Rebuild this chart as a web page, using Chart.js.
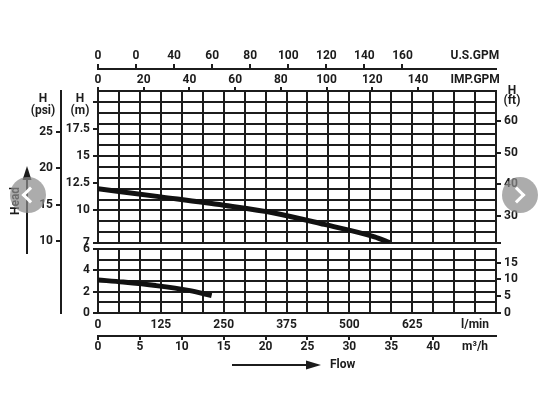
<!DOCTYPE html>
<html>
<head>
<meta charset="utf-8">
<script src="https://cdn.jsdelivr.net/npm/chart.js@4.4.1/dist/chart.umd.min.js"></script>
<style>
  html, body { margin: 0; padding: 0; background: #fff; }
  #wrap { position: relative; width: 553px; height: 415px; }
  .nav { position: absolute; width: 36px; height: 36px; border-radius: 50%; background: rgba(140, 140, 140, 0.72); }
  .nav::after { content: ''; position: absolute; top: 12px; width: 9px; height: 9px; border-left: 3px solid #fff; border-bottom: 3px solid #fff; }
  #navL { left: 10px; top: 177px; }
  #navL::after { left: 14px; transform: rotate(45deg); }
  #navR { left: 502px; top: 177px; }
  #navR::after { left: 9px; transform: rotate(-135deg); }
</style>
</head>
<body>
<div id="wrap">
  <canvas id="pumpChart"></canvas>
  <div class="nav" id="navL"></div>
  <div class="nav" id="navR"></div>
</div>
<script>
// pump curves, flow in l/min, head in m
const flowUpper = [0, 125, 250, 350, 450, 550, 580];
const headUpper = [12.0, 11.25, 10.48, 9.77, 8.71, 7.56, 7.03];
const flowLower = [0, 50, 115, 180, 226];
const headLower = [3.1, 2.9, 2.57, 2.12, 1.63];

// tick labels
const lminTicks = [0, 125, 250, 375, 500, 625];
const m3hTicks = [0, 5, 10, 15, 20, 25, 30, 35, 40];
const usGpmTicks = [0, 20, 40, 60, 80, 100, 120, 140, 160];
const usGpmLabels = ['0', '0', '40', '60', '80', '100', '120', '140', '160'];
const impGpmTicks = [0, 20, 40, 60, 80, 100, 120, 140];
const headMTicks = [7, 10, 12.5, 15, 17.5];
const headMLowerTicks = [0, 2, 4, 6];
const psiTicks = [10, 15, 20, 25];
const ftTicks = [30, 40, 50, 60];
const ftLowerTicks = [0, 5, 10, 15];

// where the unit names sit on their axes (axis units)
const unitAt = { lmin: 750, m3h: 45, usGpm: 198, impGpm: 165 };

const ink = '#1c1c1c';
const font = { family: 'Roboto', weight: 'bold', size: 12 };
const COL = 125 / 3;            // one grid column in l/min
const LMIN_MAX = 19 * COL;
const FT_MIN = 21.5;

const near = (a, b) => Math.abs(a - b) < 1e-6;
const has = (arr, v) => arr.some(t => near(t, v));
const fixed = values => scale => { scale.ticks = values.map(v => ({ value: v })); };
const range = (a, b, step) => { const out = []; for (let v = a; v <= b + 1e-9; v += step) out.push(v); return out; };

const gridCols = range(0, LMIN_MAX, COL);
const gridUpper = range(7, 21, 1).concat([12.5, 17.5]).sort((a, b) => a - b);
const gridLower = range(0, 6, 1);

function sideAxis(opts) {
    return Object.assign({
        type: 'linear',
        ticks: { autoSkip: false, maxRotation: 0, font: font, color: ink, padding: 3 },
        grid: { drawOnChartArea: false, tickLength: 5, color: ink, lineWidth: 2 },
        border: { color: ink, width: 2 }
    }, opts);
}

const annotations = {
    id: 'annotations',
    beforeDatasetsDraw(chart) {
        // white gap between the two panels
        const { ctx, chartArea, scales } = chart;
        const gap = scales.yGapL;
        ctx.save();
        ctx.fillStyle = '#fff';
        ctx.fillRect(chartArea.left - 2, gap.top + 1, chartArea.right - chartArea.left + 4, gap.bottom - gap.top - 2);
        ctx.restore();
    },
    afterDraw(chart) {
        const { ctx, chartArea, scales } = chart;
        ctx.save();
        ctx.fillStyle = ink;
        ctx.strokeStyle = ink;
        ctx.font = 'bold 12px Roboto';
        ctx.textAlign = 'center';
        ctx.textBaseline = 'middle';

        const top = chartArea.top;
        ctx.fillText('H', scales.psi.right - 18, top + 8);
        ctx.fillText('(psi)', scales.psi.right - 18, top + 19.5);
        ctx.fillText('H', scales.yM.right - 18, top + 8);
        ctx.fillText('(m)', scales.yM.right - 18, top + 19.5);
        ctx.fillText('H', scales.ftU.left + 16, top - 0.5);
        ctx.fillText('(ft)', scales.ftU.left + 16, top + 10);

        // Head arrow
        ctx.lineWidth = 2;
        ctx.beginPath();
        ctx.moveTo(27, 254);
        ctx.lineTo(27, 176);
        ctx.stroke();
        ctx.beginPath();
        ctx.moveTo(27, 166);
        ctx.lineTo(22.5, 180);
        ctx.lineTo(31.5, 180);
        ctx.closePath();
        ctx.fill();
        ctx.save();
        ctx.translate(16, 201);
        ctx.rotate(-Math.PI / 2);
        ctx.fillText('Head', 0, 0);
        ctx.restore();

        // Flow arrow
        ctx.beginPath();
        ctx.moveTo(232, 365);
        ctx.lineTo(310, 365);
        ctx.stroke();
        ctx.beginPath();
        ctx.moveTo(321, 365);
        ctx.lineTo(306, 360.5);
        ctx.lineTo(306, 369.5);
        ctx.closePath();
        ctx.fill();
        ctx.textAlign = 'left';
        ctx.fillText('Flow', 330, 365);
        ctx.restore();
    }
};

new Chart(document.getElementById('pumpChart'), {
    type: 'line',
    data: {
        datasets: [{
            data: flowUpper.map((x, i) => ({ x: x, y: headUpper[i] })),
            xAxisID: 'xL', yAxisID: 'yM',
            borderColor: '#111', borderWidth: 5, pointRadius: 0,
            cubicInterpolationMode: 'monotone', tension: 0.4
        }, {
            data: flowLower.map((x, i) => ({ x: x, y: headLower[i] })),
            xAxisID: 'xL', yAxisID: 'yM2',
            borderColor: '#111', borderWidth: 5, pointRadius: 0,
            cubicInterpolationMode: 'monotone', tension: 0.4
        }]
    },
    options: {
        responsive: true,
        maintainAspectRatio: false,
        animation: false,
        events: [],
        layout: { padding: { left: 0, right: 27, top: 48, bottom: 59 } },
        plugins: { legend: { display: false }, tooltip: { enabled: false } },
        scales: {
            xL: {
                type: 'linear', position: 'bottom', weight: 1, min: 0, max: LMIN_MAX,
                afterBuildTicks: fixed(gridCols),
                afterFit: s => { s.height = 23; },
                ticks: {
                    autoSkip: false, maxRotation: 0, font: font, color: ink, padding: 5,
                    callback: v => near(v, unitAt.lmin) ? 'l/min' : (has(lminTicks, v) ? String(Math.round(v)) : '')
                },
                grid: { color: ink, lineWidth: 2, drawTicks: false },
                border: { color: ink, width: 2 }
            },
            m3h: sideAxis({
                position: 'bottom', weight: 2, min: 0, max: LMIN_MAX * 0.06,
                afterBuildTicks: fixed(m3hTicks.concat([unitAt.m3h])),
                afterFit: s => { s.height = 20; },
                ticks: { autoSkip: false, maxRotation: 0, font: font, color: ink, padding: 0,
                    callback: v => near(v, unitAt.m3h) ? 'm³/h' : String(v) },
                grid: { drawOnChartArea: false, tickLength: 4, color: ink, lineWidth: 2,
                    tickColor: c => c.tick && near(c.tick.value, unitAt.m3h) ? 'transparent' : ink }
            }),
            impGpm: sideAxis({
                position: 'top', weight: 1, min: 0, max: LMIN_MAX / 4.54609,
                afterBuildTicks: fixed(impGpmTicks.concat([unitAt.impGpm])),
                afterFit: s => { s.height = 22; },
                ticks: { autoSkip: false, maxRotation: 0, font: font, color: ink, padding: 0,
                    callback: v => near(v, unitAt.impGpm) ? 'IMP.GPM' : String(v) },
                grid: { drawOnChartArea: false, tickLength: 4, color: ink, lineWidth: 2,
                    tickColor: c => c.tick && near(c.tick.value, unitAt.impGpm) ? 'transparent' : ink }
            }),
            usGpm: sideAxis({
                position: 'top', weight: 2, min: 0, max: LMIN_MAX / 3.78541,
                afterBuildTicks: fixed(usGpmTicks.concat([unitAt.usGpm])),
                afterFit: s => { s.height = 21; },
                ticks: { autoSkip: false, maxRotation: 0, font: font, color: ink, padding: 1,
                    callback: (v, i) => near(v, unitAt.usGpm) ? 'U.S.GPM' : usGpmLabels[i] },
                grid: { drawOnChartArea: false, tickLength: 5, color: ink, lineWidth: 2,
                    tickColor: c => c.tick && near(c.tick.value, unitAt.usGpm) ? 'transparent' : ink }
            }),
            psi: sideAxis({
                position: 'left', weight: 10, min: 0.22, max: 30.55,
                afterBuildTicks: fixed(psiTicks),
                afterFit: s => { s.width = 61; }
            }),
            yM: sideAxis({
                position: 'left', stack: 'L', stackWeight: 152, weight: 3, min: 7, max: 21,
                afterBuildTicks: fixed(gridUpper),
                afterFit: s => { s.width = 37; },
                ticks: { autoSkip: false, font: font, color: ink, padding: 3,
                    callback: v => has(headMTicks, v) ? String(v) : '' },
                grid: {
                    lineWidth: 2, tickLength: 5,
                    color: c => Number.isInteger(c.tick.value) ? ink : 'transparent',
                    tickColor: c => has(headMTicks, c.tick.value) || c.tick.value === 20 ? ink : 'transparent'
                }
            }),
            yGapL: {
                type: 'linear', position: 'left', stack: 'L', stackWeight: 6, weight: 2, min: 0, max: 1,
                afterFit: s => { s.width = 37; },
                ticks: { display: false }, grid: { display: false }, border: { display: false }
            },
            yM2: sideAxis({
                position: 'left', stack: 'L', stackWeight: 64, weight: 1, min: 0, max: 6,
                afterBuildTicks: fixed(gridLower),
                afterFit: s => { s.width = 37; },
                ticks: { autoSkip: false, font: font, color: ink, padding: 3,
                    callback: v => has(headMLowerTicks, v) ? String(v) : '' },
                grid: {
                    lineWidth: 2, tickLength: 5, color: ink,
                    tickColor: c => has(headMLowerTicks, c.tick.value) ? ink : 'transparent'
                }
            }),
            ftU: sideAxis({
                position: 'right', stack: 'R', stackWeight: 152, weight: 1, min: FT_MIN, max: 69.4,
                afterBuildTicks: fixed([FT_MIN].concat(ftTicks)),
                afterFit: s => { s.width = 30; },
                ticks: { autoSkip: false, font: font, color: ink, padding: 3,
                    callback: v => has(ftTicks, v) ? String(v) : '' }
            }),
            yGapR: {
                type: 'linear', position: 'right', stack: 'R', stackWeight: 6, weight: 2, min: 0, max: 1,
                afterFit: s => { s.width = 30; },
                ticks: { display: false }, grid: { display: false }, border: { display: false }
            },
            ftL: sideAxis({
                position: 'right', stack: 'R', stackWeight: 64, weight: 3, min: 0, max: 19.1,
                afterBuildTicks: fixed(ftLowerTicks),
                afterFit: s => { s.width = 30; }
            })
        }
    },
    plugins: [annotations]
});
</script>
</body>
</html>
